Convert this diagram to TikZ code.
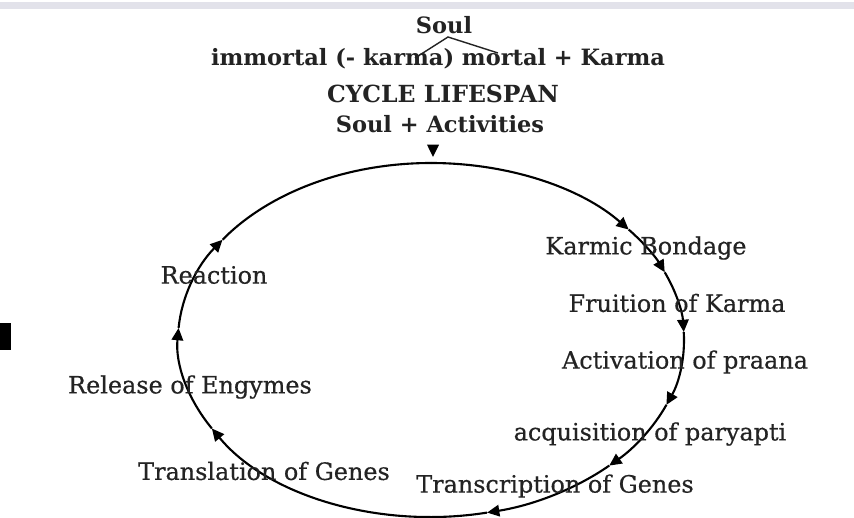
\documentclass[tikz,border=0pt]{standalone}
\usepackage{fontspec}
\setmainfont{DejaVu Serif}
\usetikzlibrary{arrows.meta,calc}
\definecolor{inkgray}{RGB}{35,35,35}
\definecolor{scanband}{RGB}{226,226,234}
\tikzset{
  head/.style={font=\bfseries\fontsize{12.8}{15}\selectfont, text=inkgray, inner sep=0pt},
  lbl/.style={font=\addfontfeature{FakeBold=0.5}\fontsize{13.6}{16}\selectfont, text=inkgray, inner sep=0pt},
  flow/.style={-{Triangle[length=7pt,width=6.5pt]}, line width=1.2pt, black},
  loopline/.style={line width=1.2pt, black},
  twig/.style={line width=0.8pt, inkgray}
}

\begin{document}
\begin{tikzpicture}[x=0.02cm,y=-0.02cm]
  \useasboundingbox (0,0) rectangle (854,517);
  \fill[white] (0,0) rectangle (854,517);
  \fill[scanband] (0,2) rectangle (854,9);
  \fill[black] (0,323) rectangle (11,350);
  % heading
  \node[head] (soul) at (444,25) {Soul};
  \node[head] (mk) at (438,59) {immortal (- karma) mortal + Karma};
  \node[head, font=\bfseries\fontsize{13.4}{15}\selectfont] (cyc) at (443,94) {CYCLE LIFESPAN};
  \node[head] (act) at (440,124) {Soul + Activities};
  \coordinate (apex) at (448,37);
  \coordinate (lmk) at (415,58);
  \coordinate (rmk) at (498,53);
  \draw[twig] (lmk) -- (apex) -- (rmk);
  % entry into the cycle
  \coordinate (in) at (433,146);
  \coordinate (tip) at (433,157);
  \draw[flow] (in) -- (tip);
  % the cycle
  \coordinate (c) at (431,340);
  \foreach \a/\b in {-90/-38.6, -38.6/-22.5, -22.5/-2.6, -2.6/21.5, 21.5/45.2,
                     45.2/77.2, 77.2/150, 150/183.9, 183.9/214.5}
    \draw[flow] ($(c)+(\a:253 and 177)$) arc[start angle=\a, end angle=\b, x radius=253, y radius=177];
  \draw[loopline] ($(c)+(214.5:253 and 177)$) arc[start angle=214.5, end angle=270, x radius=253, y radius=177];
  % stages
  \node[lbl] (bond) at (646,248) {Karmic Bondage};
  \node[lbl] (fruit) at (677,303) {Fruition of Karma};
  \node[lbl] (prana) at (685,362) {Activation of praana};
  \node[lbl] (pary) at (650,434) {acquisition of paryapti};
  \node[lbl] (transc) at (555,486) {Transcription of Genes};
  \node[lbl] (transl) at (264,471) {Translation of Genes};
  \node[lbl] (enz) at (190,387) {Release of Engymes};
  \node[lbl] (react) at (214,275) {Reaction};
\end{tikzpicture}
\end{document}
